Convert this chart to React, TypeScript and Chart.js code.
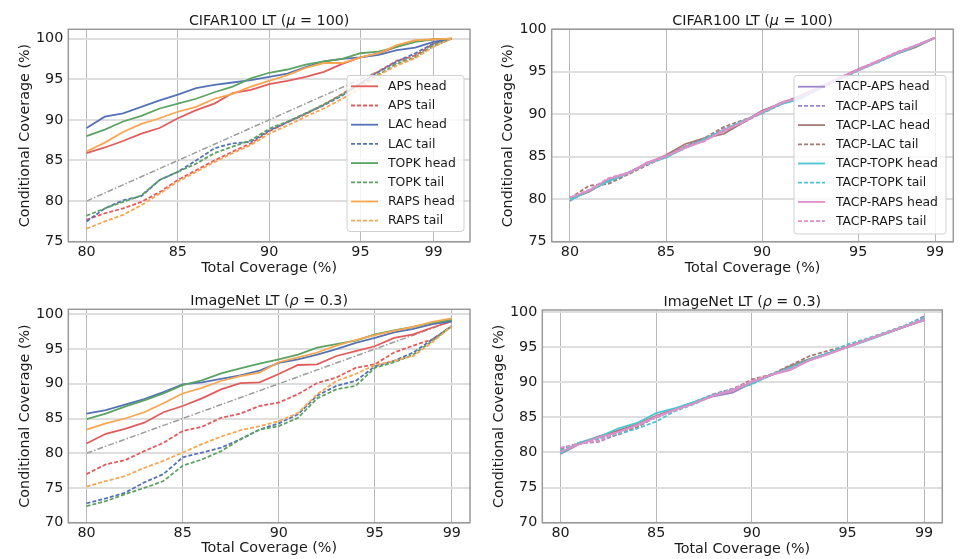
import React, { useEffect, useRef } from "react";
import { Chart, registerables } from "chart.js";

Chart.register(...registerables);

const FONT = '"DejaVu Sans", sans-serif';
const TEXT = "#1a1a1a";

// ---------- data ----------
const xCifar = [80, 81, 82, 83, 84, 85, 86, 87, 88, 89, 90, 91, 92, 93, 94, 95, 96, 97, 98, 99, 100];
const xImageNet = [80, 81, 82, 83, 84, 85, 86, 87, 88, 89, 90, 91, 92, 93, 94, 95, 96, 97, 98, 99];
const xTickValues = [80, 85, 90, 95, 99];
const yTicksCifar = [75, 80, 85, 90, 95, 100];
const yTicksImageNet = [70, 75, 80, 85, 90, 95, 100];
const diagCifarX = [80, 100];
const diagCifarY = [80, 100];
const diagImageNetX = [80, 99];
const diagImageNetY = [80, 99];

// CIFAR100 LT, baselines
const cifarApsHead = [85.9, 86.6, 87.4, 88.3, 89.0, 90.2, 91.2, 92.0, 93.3, 93.7, 94.4, 94.8, 95.3, 95.9, 96.9, 97.7, 98.2, 99.0, 99.7, 99.9, 100];
const cifarApsTail = [77.7, 78.5, 79.1, 79.9, 81.1, 82.6, 83.8, 85.0, 86.1, 87.1, 88.6, 89.7, 90.7, 91.9, 93.2, 94.5, 96.0, 97.3, 97.9, 99.4, 100];
const cifarLacHead = [89.0, 90.4, 90.8, 91.6, 92.4, 93.1, 93.9, 94.3, 94.6, 94.9, 95.3, 95.7, 96.5, 97.2, 97.5, 97.7, 98.0, 98.6, 98.9, 99.6, 100];
const cifarLacTail = [77.5, 79.1, 80.1, 80.6, 82.6, 83.6, 85.0, 86.5, 87.1, 87.3, 88.7, 89.7, 90.8, 91.8, 93.0, 94.5, 95.9, 97.2, 98.2, 99.4, 100];
const cifarTopkHead = [88.0, 88.8, 89.8, 90.5, 91.4, 92.0, 92.6, 93.4, 94.1, 95.1, 95.8, 96.2, 96.8, 97.2, 97.5, 98.2, 98.4, 99.0, 99.6, 99.9, 100];
const cifarTopkTail = [78.2, 79.1, 79.9, 80.7, 82.6, 83.6, 84.6, 85.9, 86.7, 87.5, 88.9, 89.8, 90.8, 91.9, 93.1, 94.3, 95.6, 96.9, 97.7, 99.2, 100];
const cifarRapsHead = [86.1, 87.2, 88.5, 89.5, 90.2, 91.0, 91.6, 92.6, 93.2, 94.1, 94.8, 95.5, 96.4, 97.0, 97.0, 97.7, 98.2, 99.2, 99.8, 99.9, 100];
const cifarRapsTail = [76.6, 77.5, 78.3, 79.5, 80.9, 82.4, 83.6, 84.8, 85.9, 86.9, 88.3, 89.3, 90.4, 91.4, 92.6, 93.9, 95.5, 96.7, 97.6, 99.0, 100];

// CIFAR100 LT, TACP
const cifarTacpApsHead = [80.0, 81.0, 82.3, 83.1, 84.2, 85.1, 86.2, 87.1, 88.0, 89.1, 90.4, 91.3, 92.1, 93.2, 94.2, 95.3, 96.2, 97.2, 98.0, 99.0];
const cifarTacpApsTail = [79.8, 81.1, 82.0, 83.0, 84.3, 85.0, 86.1, 87.0, 88.3, 89.0, 90.2, 91.4, 92.0, 93.2, 94.1, 95.2, 96.2, 97.3, 98.1, 99.0];
const cifarTacpLacHead = [80.0, 80.9, 82.2, 83.0, 84.2, 85.2, 86.5, 87.2, 87.7, 89.0, 90.4, 91.3, 92.2, 93.1, 94.2, 95.3, 96.2, 97.1, 97.9, 99.0];
const cifarTacpLacTail = [80.1, 81.6, 81.8, 82.9, 84.0, 85.0, 86.2, 87.2, 88.5, 89.3, 90.1, 91.2, 92.1, 93.1, 94.2, 95.2, 96.1, 97.2, 98.0, 99.0];
const cifarTacpTopkHead = [79.9, 81.0, 82.1, 83.0, 84.2, 84.9, 86.1, 87.0, 88.1, 89.2, 90.2, 91.2, 91.8, 93.1, 94.1, 95.2, 96.1, 97.1, 98.0, 99.0];
const cifarTacpTopkTail = [80.0, 81.1, 82.2, 83.1, 84.1, 85.0, 86.0, 87.1, 88.2, 89.2, 90.1, 91.3, 91.9, 93.0, 94.1, 95.1, 96.2, 97.1, 98.0, 99.0];
const cifarTacpRapsHead = [80.2, 81.0, 82.4, 83.0, 84.3, 85.1, 86.0, 86.9, 88.0, 89.1, 90.3, 91.3, 92.0, 93.1, 94.2, 95.2, 96.2, 97.2, 98.1, 99.0];
const cifarTacpRapsTail = [80.2, 81.1, 82.5, 83.1, 84.1, 85.0, 86.2, 86.8, 88.2, 89.0, 90.2, 91.4, 92.1, 93.2, 94.3, 95.3, 96.3, 97.3, 98.1, 99.0];

// ImageNet LT, baselines
const inApsHead = [81.4, 82.8, 83.5, 84.4, 85.9, 86.8, 87.9, 89.2, 90.1, 90.2, 91.4, 92.7, 92.8, 94.0, 94.7, 95.4, 96.6, 97.1, 98.1, 99.0];
const inApsTail = [77.0, 78.4, 79.0, 80.3, 81.5, 83.2, 83.8, 85.1, 85.7, 86.8, 87.3, 88.5, 90.1, 90.9, 92.3, 92.8, 94.5, 95.5, 96.4, 98.3];
const inLacHead = [85.7, 86.2, 87.0, 87.8, 88.8, 89.9, 90.2, 90.7, 91.2, 91.9, 93.0, 93.5, 94.2, 95.0, 95.9, 96.6, 97.4, 97.9, 98.6, 99.0];
const inLacTail = [72.8, 73.5, 74.3, 75.8, 77.0, 79.4, 80.1, 80.8, 82.0, 83.4, 84.3, 85.6, 88.3, 89.7, 90.4, 92.5, 93.3, 94.5, 96.4, 98.3];
const inTopkHead = [84.9, 85.7, 86.7, 87.6, 88.6, 89.8, 90.5, 91.5, 92.2, 92.9, 93.5, 94.2, 95.2, 95.7, 96.2, 97.1, 97.7, 98.2, 98.8, 99.2];
const inTopkTail = [72.4, 73.1, 74.1, 75.0, 76.0, 78.2, 79.1, 80.3, 82.0, 83.4, 83.9, 85.1, 87.9, 89.2, 89.7, 92.3, 93.1, 94.2, 96.2, 98.3];
const inRapsHead = [83.4, 84.3, 85.0, 85.9, 87.2, 88.6, 89.4, 90.4, 91.1, 91.6, 93.1, 93.8, 94.5, 95.5, 96.3, 97.0, 97.6, 98.2, 98.9, 99.4];
const inRapsTail = [75.2, 76.0, 76.7, 77.9, 78.9, 80.1, 81.3, 82.4, 83.3, 83.9, 84.6, 85.8, 88.5, 90.4, 91.4, 92.7, 93.3, 94.0, 96.0, 98.3];

// ImageNet LT, TACP
const inTacpApsHead = [79.8, 81.2, 82.2, 83.0, 83.9, 85.1, 86.2, 87.1, 88.0, 88.5, 89.9, 91.0, 92.0, 93.2, 94.1, 95.0, 96.0, 97.0, 97.9, 98.8];
const inTacpApsTail = [80.6, 81.3, 81.5, 82.6, 83.7, 85.0, 86.1, 87.2, 88.3, 89.1, 90.1, 91.1, 91.8, 93.1, 94.2, 95.1, 96.1, 97.0, 98.0, 99.4];
const inTacpLacHead = [80.0, 81.3, 82.3, 83.1, 84.0, 85.2, 86.2, 87.0, 88.2, 88.8, 90.0, 91.0, 92.3, 93.3, 94.1, 95.0, 96.0, 96.9, 97.9, 98.9];
const inTacpLacTail = [80.4, 81.4, 82.0, 82.5, 83.6, 85.1, 86.0, 87.1, 88.2, 89.0, 90.4, 91.1, 92.4, 93.7, 94.5, 95.2, 96.1, 97.1, 98.0, 99.0];
const inTacpTopkHead = [79.9, 81.4, 82.2, 83.4, 84.2, 85.6, 86.3, 87.2, 88.2, 88.9, 89.8, 91.0, 92.1, 93.2, 94.1, 95.0, 95.9, 96.9, 97.9, 98.9];
const inTacpTopkTail = [80.3, 81.3, 81.9, 82.6, 83.4, 84.4, 85.9, 86.9, 88.1, 89.0, 89.7, 91.1, 92.0, 93.2, 94.2, 95.4, 96.2, 97.1, 98.1, 99.2];
const inTacpRapsHead = [80.1, 81.2, 82.1, 82.9, 83.9, 85.1, 86.1, 87.0, 88.1, 88.8, 90.0, 91.0, 91.7, 93.1, 94.0, 95.0, 96.0, 97.0, 97.9, 98.8];
const inTacpRapsTail = [80.7, 81.2, 81.7, 82.8, 83.8, 85.0, 86.0, 87.0, 88.1, 89.0, 90.2, 91.1, 91.9, 93.1, 94.0, 95.1, 96.1, 97.0, 98.0, 99.0];

const baseLabels = ["APS head", "APS tail", "LAC head", "LAC tail", "TOPK head", "TOPK tail", "RAPS head", "RAPS tail"];
const tacpLabels = ["TACP-APS head", "TACP-APS tail", "TACP-LAC head", "TACP-LAC tail", "TACP-TOPK head", "TACP-TOPK tail", "TACP-RAPS head", "TACP-RAPS tail"];

// ---------- styles ----------
const baseColors = ["#e35b5c", "#e35b5c", "#5473b6", "#5473b6", "#5ca363", "#5ca363", "#f8a650", "#f8a650"];
const tacpColors = ["#9d85c8", "#9d85c8", "#a37b72", "#a37b72", "#4cc5d0", "#4cc5d0", "#e08fca", "#e08fca"];

type Series = { label: string; values: number[]; color: string; dashed: boolean };

function makeSeries(labels: string[], colors: string[], values: number[][]): Series[] {
  return labels.map((label, i) => ({ label, values: values[i], color: colors[i], dashed: i % 2 === 1 }));
}

type TitlePart = { text: string; italic: boolean };

type PanelProps = {
  left: number;
  top: number;
  W: number;
  H: number;
  area: { left: number; top: number; right: number; bottom: number };
  xs: number[];
  series: Series[];
  diag?: { x: number[]; y: number[] };
  xRange: [number, number];
  yRange: [number, number];
  yTicks: number[];
  title: TitlePart[];
  yTitlePad: number;
  xTitlePad: number;
  legend?: { x: number; y: number; w: number; h: number; row0: number; step: number; sx0: number; sx1: number; tx: number };
};

const TICK_SIZE = 14.3;
const LEGEND_SIZE = 12.4;

function Panel(p: PanelProps) {
  const ref = useRef<HTMLCanvasElement>(null);
  useEffect(() => {
    const canvas = ref.current;
    if (!canvas) return;
    const datasets: any[] = p.series.map((s, i) => ({
      label: s.label,
      data: p.xs.map((x, j) => ({ x, y: s.values[j] })),
      borderColor: s.color,
      backgroundColor: s.color,
      borderWidth: 1.8,
      borderDash: s.dashed ? [4, 2] : [],
      pointRadius: 0,
      pointHoverRadius: 0,
      fill: false,
      tension: 0,
      order: -i,
    }));
    if (p.diag) {
      const d = p.diag;
      datasets.push({
        label: "diag",
        data: d.x.map((x, j) => ({ x, y: d.y[j] })),
        borderColor: "#9c9c9c",
        borderWidth: 1.5,
        borderDash: [6, 2, 1.5, 2],
        pointRadius: 0,
        fill: false,
        tension: 0,
        order: 50,
      });
    }

    const deco = {
      id: "deco",
      afterDatasetsDraw(chart: any) {
        const ctx: CanvasRenderingContext2D = chart.ctx;
        const a = chart.chartArea;
        ctx.save();
        // frame
        ctx.setLineDash([]);
        ctx.strokeStyle = "#9a9a9a";
        ctx.lineWidth = 1.5;
        ctx.strokeRect(a.left, a.top, a.right - a.left, a.bottom - a.top);
        // title
        ctx.fillStyle = TEXT;
        ctx.textBaseline = "alphabetic";
        ctx.textAlign = "left";
        const fontFor = (it: boolean) => `${it ? "italic " : ""}${TICK_SIZE}px ${FONT}`;
        let total = 0;
        for (const part of p.title) {
          ctx.font = fontFor(part.italic);
          total += ctx.measureText(part.text).width;
        }
        let tx = (a.left + a.right) / 2 - total / 2;
        const ty = a.top - 4.3;
        for (const part of p.title) {
          ctx.font = fontFor(part.italic);
          ctx.fillText(part.text, tx, ty);
          tx += ctx.measureText(part.text).width;
        }
        // legend
        if (p.legend) {
          const L = p.legend;
          ctx.fillStyle = "rgba(255,255,255,0.8)";
          ctx.strokeStyle = "#d0d0d0";
          ctx.lineWidth = 1;
          ctx.beginPath();
          (ctx as any).roundRect(L.x, L.y, L.w, L.h, 3);
          ctx.fill();
          ctx.stroke();
          ctx.font = `${LEGEND_SIZE}px ${FONT}`;
          ctx.textBaseline = "middle";
          p.series.forEach((s, i) => {
            const yy = L.row0 + i * L.step;
            ctx.strokeStyle = s.color;
            ctx.lineWidth = 1.8;
            ctx.setLineDash(s.dashed ? [4, 2] : []);
            ctx.beginPath();
            ctx.moveTo(L.sx0, yy);
            ctx.lineTo(L.sx1, yy);
            ctx.stroke();
            ctx.setLineDash([]);
            ctx.fillStyle = TEXT;
            ctx.fillText(s.label, L.tx, yy + 0.5);
          });
        }
        ctx.restore();
      },
    };

    const tickFont = { family: FONT, size: TICK_SIZE };
    const chart = new Chart(canvas, {
      type: "line",
      data: { datasets },
      options: {
        animation: false,
        responsive: false,
        devicePixelRatio: 1,
        events: [],
        layout: { padding: { left: 0, top: p.area.top, right: p.W - p.area.right, bottom: 0 } },
        plugins: { legend: { display: false }, tooltip: { enabled: false }, title: { display: false } },
        scales: {
          x: {
            type: "linear",
            min: p.xRange[0],
            max: p.xRange[1],
            afterBuildTicks: (s: any) => {
              s.ticks = xTickValues.map((v) => ({ value: v }));
            },
            afterFit: (s: any) => {
              s.height = p.H - p.area.bottom;
            },
            ticks: { font: tickFont, color: TEXT, padding: 2, autoSkip: false, maxRotation: 0, callback: (v: any) => String(v) },
            grid: { color: "#b8b8b8", lineWidth: 1, drawTicks: false },
            border: { display: false },
            title: { display: true, text: "Total Coverage (%)", font: tickFont, color: TEXT, padding: { top: 0, bottom: p.xTitlePad } },
          },
          y: {
            type: "linear",
            min: p.yRange[0],
            max: p.yRange[1],
            afterBuildTicks: (s: any) => {
              s.ticks = p.yTicks.map((v) => ({ value: v }));
            },
            afterFit: (s: any) => {
              s.width = p.area.left;
            },
            ticks: { font: tickFont, color: TEXT, padding: 5, autoSkip: false, callback: (v: any) => String(v) },
            grid: { color: "#dedede", lineWidth: 2, drawTicks: false },
            border: { display: false },
            title: { display: true, text: "Conditional Coverage (%)", font: tickFont, color: TEXT, padding: { top: p.yTitlePad, bottom: 0 } },
          },
        },
      } as any,
      plugins: [deco],
    });
    return () => chart.destroy();
  }, []);

  return (
    <canvas
      ref={ref}
      width={p.W}
      height={p.H}
      style={{ position: "absolute", left: p.left, top: p.top, width: p.W, height: p.H }}
    />
  );
}

const cifarBase = makeSeries(baseLabels, baseColors, [
  cifarApsHead, cifarApsTail, cifarLacHead, cifarLacTail, cifarTopkHead, cifarTopkTail, cifarRapsHead, cifarRapsTail,
]);
const cifarTacp = makeSeries(tacpLabels, tacpColors, [
  cifarTacpApsHead, cifarTacpApsTail, cifarTacpLacHead, cifarTacpLacTail, cifarTacpTopkHead, cifarTacpTopkTail, cifarTacpRapsHead, cifarTacpRapsTail,
]);
const inBase = makeSeries(baseLabels, baseColors, [
  inApsHead, inApsTail, inLacHead, inLacTail, inTopkHead, inTopkTail, inRapsHead, inRapsTail,
]);
const inTacp = makeSeries(tacpLabels, tacpColors, [
  inTacpApsHead, inTacpApsTail, inTacpLacHead, inTacpLacTail, inTacpTopkHead, inTacpTopkTail, inTacpRapsHead, inTacpRapsTail,
]);

const cifarTitle: TitlePart[] = [
  { text: "CIFAR100 LT (", italic: false },
  { text: "μ", italic: true },
  { text: " = 100)", italic: false },
];
const inTitle: TitlePart[] = [
  { text: "ImageNet LT (", italic: false },
  { text: "ρ", italic: true },
  { text: " = 0.3)", italic: false },
];

export default function App() {
  return (
    <div style={{ position: "fixed", left: 0, top: 0, width: 972, height: 559, background: "#fff", overflow: "hidden" }}>
      <Panel
        left={0}
        top={0}
        W={486}
        H={280}
        area={{ left: 68.3, top: 29.3, right: 470, bottom: 241.7 }}
        xs={xCifar}
        series={cifarBase}
        diag={{ x: diagCifarX, y: diagCifarY }}
        xRange={[79, 101]}
        yRange={[75, 101.15]}
        yTicks={yTicksCifar}
        title={cifarTitle}
        yTitlePad={17}
        xTitlePad={2.9}
        legend={{ x: 347, y: 75.5, w: 117, h: 156, row0: 86.3, step: 19.2, sx0: 351, sx1: 378, tx: 388 }}
      />
      <Panel
        left={486}
        top={0}
        W={486}
        H={280}
        area={{ left: 65.7, top: 29.3, right: 467.3, bottom: 241.7 }}
        xs={xImageNet}
        series={cifarTacp}
        xRange={[79.05, 99.95]}
        yRange={[75, 100]}
        yTicks={yTicksCifar}
        title={cifarTitle}
        yTitlePad={13.7}
        xTitlePad={3.4}
        legend={{ x: 308, y: 75.5, w: 152, h: 158.5, row0: 86.7, step: 19.2, sx0: 312, sx1: 339, tx: 350 }}
      />
      <Panel
        left={0}
        top={280}
        W={486}
        H={279}
        area={{ left: 68.3, top: 29.3, right: 470, bottom: 242.7 }}
        xs={xImageNet}
        series={inBase}
        diag={{ x: diagImageNetX, y: diagImageNetY }}
        xRange={[79.05, 99.95]}
        yRange={[70, 100.72]}
        yTicks={yTicksImageNet}
        title={inTitle}
        yTitlePad={16.4}
        xTitlePad={2.1}
      />
      <Panel
        left={486}
        top={280}
        W={486}
        H={279}
        area={{ left: 56.3, top: 30, right: 456.3, bottom: 242.7 }}
        xs={xImageNet}
        series={inTacp}
        xRange={[79.05, 99.95]}
        yRange={[70, 100.28]}
        yTicks={yTicksImageNet}
        title={inTitle}
        yTitlePad={4.4}
        xTitlePad={1.4}
      />
    </div>
  );
}
